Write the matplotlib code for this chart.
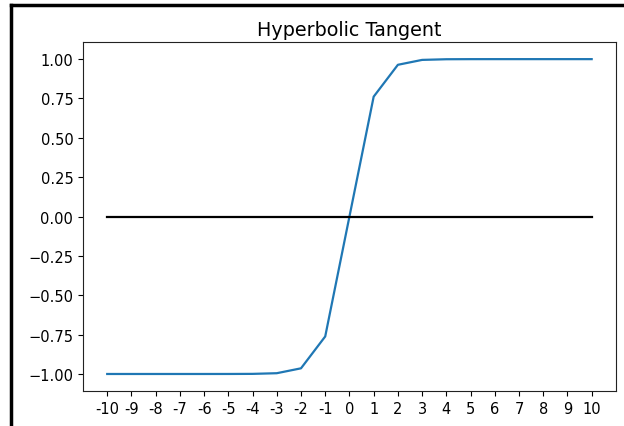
import matplotlib
matplotlib.use("Agg")
import matplotlib.pyplot as plt
from matplotlib.lines import Line2D

x_values = [-10, -9, -8, -7, -6, -5, -4, -3, -2, -1, 0, 1, 2, 3, 4, 5, 6, 7, 8, 9, 10]
tanh_values = [-1.0, -1.0, -1.0, -1.0, -1.0, -0.9999, -0.9993, -0.9951, -0.9640, -0.7616,
               0.0, 0.7616, 0.9640, 0.9951, 0.9993, 0.9999, 1.0, 1.0, 1.0, 1.0, 1.0]
zero_values = [0.0] * len(x_values)
x_tick_labels = ["-10", "-9", "-8", "-7", "-6", "-5", "-4", "-3", "-2", "-1", "0",
                 "1", "2", "3", "4", "5", "6", "7", "8", "9", "10"]
y_ticks = [-1.0, -0.75, -0.5, -0.25, 0.0, 0.25, 0.5, 0.75, 1.0]
title = "Hyperbolic Tangent"

plt.rcParams['font.size'] = 10.5
fig = plt.figure(figsize=(6.24, 4.27), dpi=100)
ax = fig.add_axes([0.133, 0.082, 0.854, 0.817])
ax.plot(x_values, tanh_values, color='#1f77b4', lw=1.6)
ax.plot(x_values, zero_values, color='black', lw=1.6)
ax.set_xticks(x_values)
ax.set_xticklabels(x_tick_labels)
ax.set_yticks(y_ticks)
ax.set_xlim(-11, 11)
ax.set_ylim(-1.108, 1.108)
ax.set_title(title, fontsize=13.8, pad=5)
for s in ax.spines.values():
    s.set_color('#222222')

# screenshot border
fig.add_artist(Line2D([11 / 624, 11 / 624], [0, 1 - 6 / 427], color='black', lw=2.5, transform=fig.transFigure))
fig.add_artist(Line2D([11 / 624, 1], [1 - 6 / 427, 1 - 6 / 427], color='black', lw=2.5, transform=fig.transFigure))

fig.savefig("out.png", dpi=100)
